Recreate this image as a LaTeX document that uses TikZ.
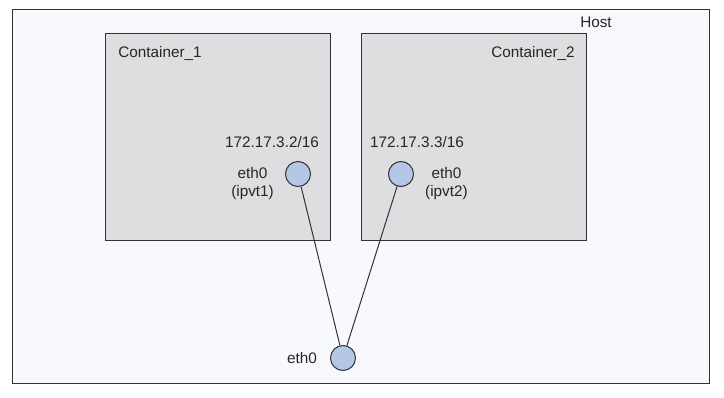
\documentclass[tikz,border=0pt]{standalone}
\usepackage{fontspec}
\setmainfont{Liberation Sans}
\usepackage{tikz}
\usetikzlibrary{positioning}
\definecolor{hostbg}{RGB}{248,249,252}
\definecolor{boxbg}{RGB}{222,222,225}
\definecolor{portbg}{RGB}{180,199,231}
\definecolor{edgecol}{RGB}{50,50,55}
\tikzstyle{box}=[inner sep=0pt, draw=edgecol, fill=boxbg, shape=rectangle, line width=0.9pt]
\tikzstyle{port}=[inner sep=0pt, draw=edgecol, fill=portbg, shape=circle, minimum size=25pt, line width=1pt]
\tikzstyle{lbl}=[inner sep=1pt, align=center, text=black!85, font=\fontsize{15.3}{18}\selectfont]

\begin{document}
\begin{tikzpicture}[x=1pt, y=-1pt]
\useasboundingbox (0,0) rectangle (724,398);
% host and the two containers
\node[box, fill=hostbg, minimum width=697pt, minimum height=374pt] (host) at (360.5,196) {};
\node[box, minimum width=225pt, minimum height=207pt] (c1) at (217.5,136.5) {};
\node[box, minimum width=225pt, minimum height=207pt] (c2) at (474,136.5) {};
\node[lbl] (hostname) at (596,22) {Host};
\node[lbl] (c1name) at (160,53) {Container\_1};
\node[lbl] (c2name) at (533,53) {Container\_2};
%
% interfaces
\node[port] (p1) at (298,174) {};
\node[port] (p2) at (401,174) {};
\node[port] (p0) at (343,358) {};
\node[lbl] (ip1) at (272,142) {172.17.3.2/16};
\node[lbl] (ip2) at (417,142) {172.17.3.3/16};
\node[lbl, left=10pt of p1, yshift=-10pt] (eth1) {eth0\\(ipvt1)};
\node[lbl, right=10pt of p2, yshift=-10pt] (eth2) {eth0\\(ipvt2)};
\node[lbl, left=12pt of p0] (eth0) {eth0};
%
\draw[edgecol, line width=1pt] (p1) -- (p0);
\draw[edgecol, line width=1pt] (p2) -- (p0);
\end{tikzpicture}
\end{document}
